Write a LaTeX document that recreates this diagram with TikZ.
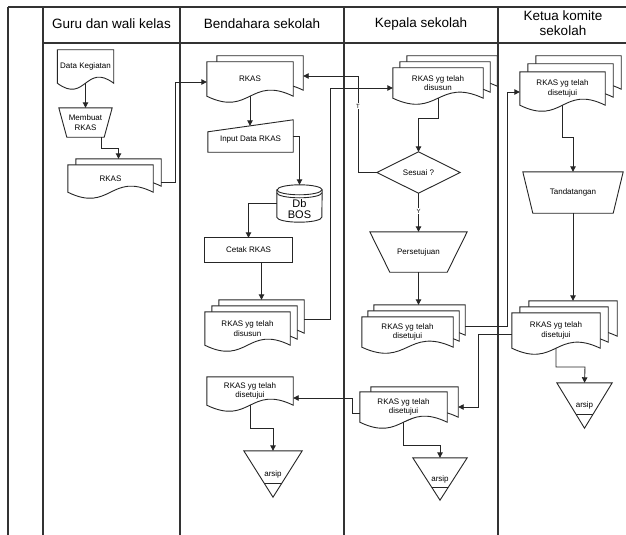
\documentclass[tikz,border=0pt]{standalone}
\usepackage{fontspec}
\setmainfont{Liberation Sans}
\usetikzlibrary{arrows.meta,calc}
\pgfdeclarelayer{paper}
\pgfdeclarelayer{bg}
\pgfsetlayers{paper,bg,main}

\newcommand\lanefont{\fontsize{13.5}{14.5}\selectfont}
\newcommand\shapefont{\fontsize{8}{9.5}\selectfont}
\newcommand\tagfont{\fontsize{6}{7}\selectfont}

% outlines drawn behind the text nodes
\newcommand\shpDoc[1]{%
  \begin{pgfonlayer}{bg}
    \draw[outline] (#1.north west) -- (#1.south west)
      .. controls ($(#1.south)+(0,21)$) and ($(#1.south)+(0,-21)$) .. (#1.south east)
      -- (#1.north east) -- cycle;
  \end{pgfonlayer}}
\newcommand\shpManOp[2]{%
  \begin{pgfonlayer}{bg}
    \draw[outline] (#1.north west) -- (#1.north east)
      -- ($(#1.south east)+(-#2,0)$) -- ($(#1.south west)+(#2,0)$) -- cycle;
  \end{pgfonlayer}}
\newcommand\shpManIn[2]{%
  \begin{pgfonlayer}{bg}
    \draw[outline] (#1.south west) -- ($(#1.north west)+(0,#2)$)
      -- (#1.north east) -- (#1.south east) -- cycle;
  \end{pgfonlayer}
  \path (#1.north west) ++(0,#2) coordinate (#1-tl);
  \coordinate (#1-top) at ($(#1-tl)!0.5!(#1.north east)$);}
\newcommand\shpDecision[1]{%
  \begin{pgfonlayer}{bg}
    \draw[outline] (#1.north) -- (#1.east) -- (#1.south) -- (#1.west) -- cycle;
  \end{pgfonlayer}}
\newcommand\shpCylinder[2]{%
  \begin{pgfonlayer}{bg}
    \draw[outline] ($(#1.north west)+(0,5)$) -- ($(#1.south west)+(0,-5)$)
      arc[start angle=180,end angle=360,x radius=#2pt,y radius=5pt]
      -- ($(#1.north east)+(0,5)$)
      arc[start angle=0,end angle=180,x radius=#2pt,y radius=5pt] -- cycle;
    \draw[link] ($(#1.north west)+(0,5)$)
      arc[start angle=180,end angle=360,x radius=#2pt,y radius=5pt];
    \draw[link] ($(#1.north west)+(0,8)$)
      arc[start angle=180,end angle=360,x radius=#2pt,y radius=5pt];
  \end{pgfonlayer}}
\newcommand\shpArchive[1]{%
  \begin{pgfonlayer}{bg}
    \draw[outline] (#1.north west) -- (#1.north east) -- (#1.south) -- cycle;
    \draw[link] ($(#1.north west)!0.7!(#1.south)$) -- ($(#1.north east)!0.7!(#1.south)$);
  \end{pgfonlayer}}

\begin{document}
\begin{tikzpicture}[x=1pt,y=-1pt,
  lane/.style={line width=1.4pt, draw=black!80},
  outline/.style={draw=black!85, line width=0.9pt, fill=white},
  link/.style={draw=black!85, line width=0.9pt},
  flow/.style={link, -{Triangle[length=5.5pt,width=5.5pt]}},
  box/.style 2 args={rectangle, inner sep=0pt, minimum width=#1pt,
    minimum height=#2pt, align=center, font=\shapefont},
  lanehead/.style={font=\lanefont, align=center, inner sep=0pt},
  tag/.style={font=\tagfont, fill=white, inner sep=0.6pt}]

\useasboundingbox (0,0) rectangle (626,535);
\begin{pgfonlayer}{paper}
  \fill[white] (0,0) rectangle (626,535);
\end{pgfonlayer}

% swimlane frame
\begin{pgfonlayer}{bg}
  \draw[lane] (8,7) -- (626,7);
  \draw[lane] (43,43) -- (626,43);
  \foreach \lx in {8,43,180,344,498}
    \draw[lane] (\lx,7) -- (\lx,535);
\end{pgfonlayer}

\node[lanehead] (hGuru) at (111.5,24) {Guru dan wali kelas};
\node[lanehead] (hBend) at (262,24) {Bendahara sekolah};
\node[lanehead] (hKep)  at (421,24) {Kepala sekolah};
\node[lanehead] (hKet)  at (563,23) {Ketua komite\\sekolah};

% ---- Guru dan wali kelas
\node[box={56}{33}] (dk) at (85.5,66.5) {Data Kegiatan};
\shpDoc{dk}
\node[box={53}{29}] (mb) at (85.5,122.5) {Membuat\\RKAS};
\shpManOp{mb}{8}
\node[box={85}{27}] (rk1b) at (118.5,172.5) {};
\shpDoc{rk1b}
\node[box={85}{27}] (rk1) at (110.5,178.5) {RKAS};
\shpDoc{rk1}

% ---- Bendahara sekolah
\node[box={86}{34}] (rk2b) at (260,73) {};
\shpDoc{rk2b}
\node[box={86}{34}] (rk2) at (250,79) {RKAS};
\shpDoc{rk2}
\node[box={85}{32}] (inp) at (250.5,136) {\raisebox{-4pt}[\height][\depth]{Input Data RKAS}};
\shpManIn{inp}{12}
\node[box={45}{37}] (db) at (299.5,203.5)
  {\fontsize{11}{12}\selectfont\raisebox{-7pt}[\height][\depth]{\begin{tabular}{@{}c@{}}Db\\[-1pt]BOS\end{tabular}}};
\shpCylinder{db}{22.5}
\node[box={87}{24}] (ck) at (248.5,250) {Cetak RKAS};
\begin{pgfonlayer}{bg}\draw[outline] (ck.north west) rectangle (ck.south east);\end{pgfonlayer}
\node[box={85}{33}] (rk3c) at (261.5,316.5) {};
\shpDoc{rk3c}
\node[box={85}{33}] (rk3b) at (254.5,322.5) {};
\shpDoc{rk3b}
\node[box={85}{33}] (rk3) at (247.5,328.5) {RKAS yg telah\\disusun};
\shpDoc{rk3}
\node[box={86}{28}] (rk4) at (250,391) {RKAS yg telah\\disetujui};
\shpDoc{rk4}
\node[box={58}{46}] (ar1) at (273,474) {arsip};
\shpArchive{ar1}

% ---- Kepala sekolah
\node[box={90}{30}] (kdc) at (452,71) {};
\shpDoc{kdc}
\node[box={90}{30}] (kdb) at (445,77) {};
\shpDoc{kdb}
\node[box={90}{30}] (kd) at (438,83) {RKAS yg telah\\disusun};
\shpDoc{kd}
\node[box={83}{41}] (dec) at (418.5,172.5) {Sesuai ?};
\shpDecision{dec}
\node[box={97}{40}] (pers) at (418.5,252) {Persetujuan};
\shpManOp{pers}{20}
\node[box={91}{30}] (kmsc) at (419.5,320) {};
\shpDoc{kmsc}
\node[box={91}{30}] (kmsb) at (413.5,326) {};
\shpDoc{kmsb}
\node[box={91}{30}] (kms) at (407.5,332) {RKAS yg telah\\disetujui};
\shpDoc{kms}
\node[box={87}{30}] (kbb) at (414.5,402) {};
\shpDoc{kbb}
\node[box={87}{30}] (kb) at (403.5,407) {RKAS yg telah\\disetujui};
\shpDoc{kb}
\node[box={54}{42}] (ar2) at (440,479) {arsip};
\shpArchive{ar2}

% ---- Ketua komite sekolah
\node[box={85}{33}] (kt1c) at (578.5,72.5) {};
\shpDoc{kt1c}
\node[box={85}{33}] (kt1b) at (570.5,80.5) {};
\shpDoc{kt1b}
\node[box={85}{33}] (kt1) at (562.5,88.5) {RKAS yg telah\\disetujui};
\shpDoc{kt1}
\node[box={100}{41}] (tt) at (573,192.5) {Tandatangan};
\shpManOp{tt}{10}
\node[box={88}{35}] (kt2c) at (573,318.5) {};
\shpDoc{kt2c}
\node[box={88}{35}] (kt2b) at (564,324.5) {};
\shpDoc{kt2b}
\node[box={88}{35}] (kt2) at (556,330.5) {RKAS yg telah\\disetujui};
\shpDoc{kt2}
\node[box={55}{45}] (ar3) at (584.5,405.5) {arsip};
\shpArchive{ar3}

% ---- bend points
\coordinate (gA) at (175,82);
\coordinate (gB) at (118.5,148);
\coordinate (bA) at (330,88);
\coordinate (bB) at (273,428);
\coordinate (kA) at (418.5,118);
\coordinate (kT) at (358,76);
\coordinate (kB) at (507,92);
\coordinate (kC) at (352,398);
\coordinate (kD) at (440,445);
\coordinate (tA) at (573,137);
\coordinate (tB) at (478,407);
\coordinate (tC) at (585,367);

% ---- connectors
\draw[flow] (dk.south) -- (mb.north);
\draw[flow] ([xshift=15.5pt]mb.south) |- (gB) -- (rk1b.north);
\draw[flow] ([yshift=-9.5pt]rk1b.east) -| (gA) -- (gA -| rk2.west);

\draw[flow] (rk2.south) -- (rk2.south |- inp-top);
\draw[flow] (inp.east) -| (db.north);
\draw[flow] (db.west) -| (ck.north);
\draw[flow] (ck.south -| rk3c.north) -- (rk3c.north);
\draw[flow] ([yshift=-3pt]rk3c.east) -| (bA) -- (bA -| kd.west);
\draw[flow] (rk4.south) |- (bB) -- (ar1.north);

\draw[flow] (kd.south) |- (kA) -- (dec.north);
\draw[flow] (dec.west) -| (kT) -- (kT -| rk2b.east);
\node[tag] (lblT) at (358,106) {T};
\draw[flow] (dec.south) -- (pers.north);
\node[tag] (lblY) at (418.5,211) {Y};
\draw[flow] (pers.south) -- (pers.south |- kmsc.north);
\draw[flow] ([yshift=-6pt]kmsc.east) -| (kB) -- (kB -| kt1.west);
\draw[flow] ([yshift=-6pt]kb.west) -| (kC) -- (kC -| rk4.east);
\draw[flow] (kb.south) |- (kD) -- (ar2.north);

\draw[flow] (kt1.south) |- (tA) -- (tt.north);
\draw[flow] (tt.south) -- (tt.south |- kt2c.north);
\draw[flow] ([yshift=-4pt]kt2.west) -| (tB) -- (tB -| kbb.east);
\draw[flow] (kt2.south) |- (tC) -- (ar3.north);
\end{tikzpicture}
\end{document}
